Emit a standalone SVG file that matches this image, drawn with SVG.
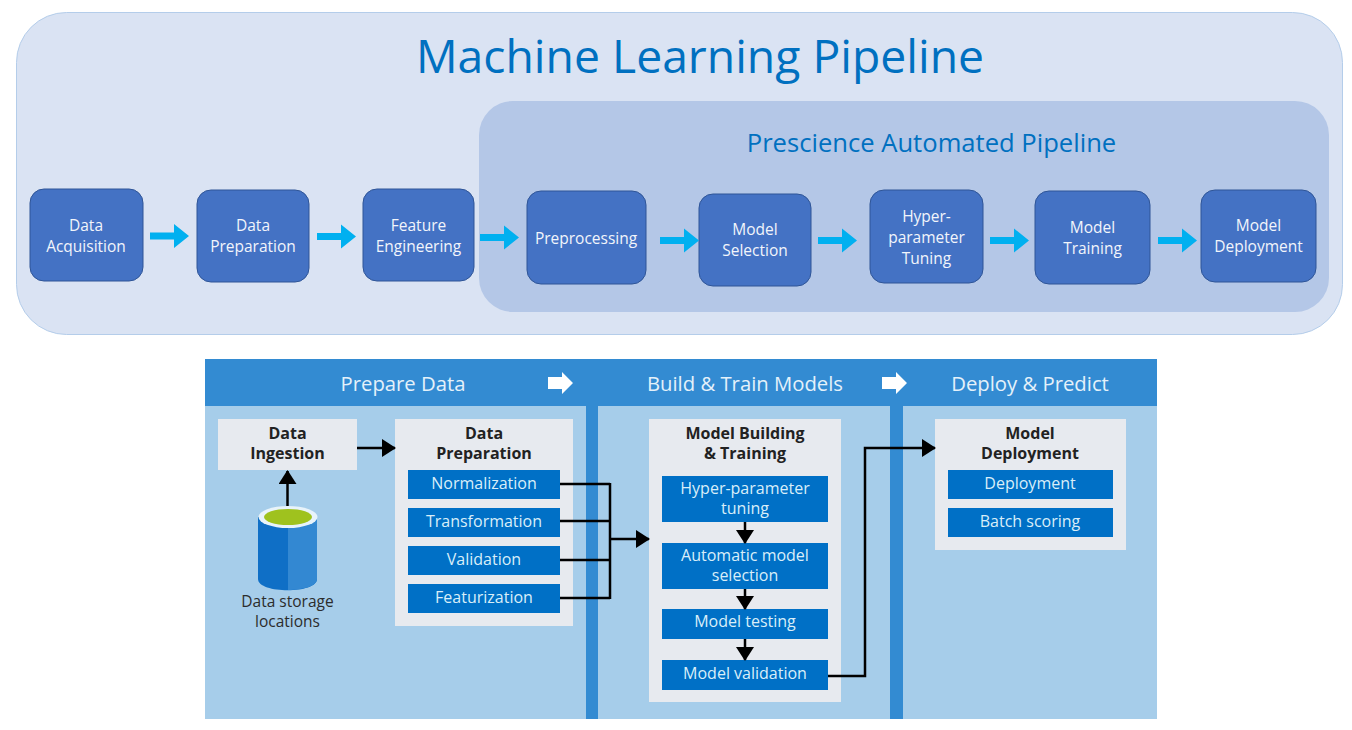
<svg xmlns="http://www.w3.org/2000/svg" width="1352" height="730" viewBox="0 0 1352 730">
<defs>
<marker id="blk" markerUnits="userSpaceOnUse" markerWidth="14" markerHeight="18" refX="13" refY="9" orient="auto"><path d="M0 0L14 9L0 18Z" fill="#000"/></marker>
</defs>
<style>
text{font-family:"Open Sans","Noto Sans","Liberation Sans",sans-serif;text-anchor:middle}
.n rect{fill:#4472c4;stroke:#2f5597;stroke-width:1}
.n text{fill:#f2f5fb;font-size:15.500px}
.ar{fill:#00b0f0}
.h{fill:#e4f1fa;font-size:20.300px}
.g{fill:#e7eaef}
.b{fill:#0070c6}
.w{fill:#d9eef9;font-size:16px}
.k{fill:#222;font-size:16px;font-weight:700}
.c{fill:none;stroke:#000;stroke-width:2.500}
</style>
<rect width="1352" height="730" fill="#fff"/>
<rect id="outer" x="16.500" y="12.500" width="1326" height="322" rx="50" fill="#dae3f3" stroke="#b4cdea"/>
<text x="700" y="73" font-size="46.300" fill="#0070c0">Machine Learning Pipeline</text>
<rect id="inner" x="479" y="101" width="850" height="211" rx="34" fill="#b4c7e7"/>
<text x="931.500" y="152" font-size="25.600" fill="#0070c0">Prescience Automated Pipeline</text>
<g id="n1" class="n"><rect x="30" y="189" width="113" height="92" rx="14"/><text x="86" y="231">Data</text><text x="86" y="252">Acquisition</text></g>
<g id="n2" class="n"><rect x="197" y="190" width="112" height="92" rx="14"/><text x="253" y="231">Data</text><text x="253" y="252">Preparation</text></g>
<g id="n3" class="n"><rect x="363" y="189" width="111" height="92" rx="14"/><text x="418.500" y="231">Feature</text><text x="418.500" y="252">Engineering</text></g>
<g id="n4" class="n"><rect x="527" y="191" width="119" height="93" rx="14"/><text x="586" y="243.500">Preprocessing</text></g>
<g id="n5" class="n"><rect x="699" y="194" width="112" height="92" rx="14"/><text x="755" y="235">Model</text><text x="755" y="256">Selection</text></g>
<g id="n6" class="n"><rect x="870" y="190" width="113" height="93" rx="14"/><text x="926.500" y="222">Hyper-</text><text x="926.500" y="243">parameter</text><text x="926.500" y="264">Tuning</text></g>
<g id="n7" class="n"><rect x="1035" y="191" width="115" height="93" rx="14"/><text x="1092.500" y="233">Model</text><text x="1092.500" y="254">Training</text></g>
<g id="n8" class="n"><rect x="1201" y="190" width="115" height="92" rx="14"/><text x="1258.500" y="231">Model</text><text x="1258.500" y="252">Deployment</text></g>
<g id="blue-arrows">
<path class="ar" d="M150 232.500h24v-8.500l15 12l-15 12v-8.500h-24z"/>
<path class="ar" d="M317 233h24v-8.500l15 12l-15 12v-8.500h-24z"/>
<path class="ar" d="M480 234h24v-8.500l15 12l-15 12v-8.500h-24z"/>
<path class="ar" d="M660 237h24v-8.500l15 12l-15 12v-8.500h-24z"/>
<path class="ar" d="M818 237h24v-8.500l15 12l-15 12v-8.500h-24z"/>
<path class="ar" d="M990 237h24v-8.500l15 12l-15 12v-8.500h-24z"/>
<path class="ar" d="M1158 237h24v-8.500l15 12l-15 12v-8.500h-24z"/>
</g>
<g id="panel">
<rect x="205" y="359" width="952" height="360" fill="#338bd2"/>
<rect x="205" y="406" width="381" height="313" fill="#a6cdea"/>
<rect x="598" y="406" width="292" height="313" fill="#a6cdea"/>
<rect x="903" y="406" width="254" height="313" fill="#a6cdea"/>
<text class="h" x="403" y="390.500">Prepare Data</text>
<text class="h" x="745" y="390.500">Build &amp; Train Models</text>
<text class="h" x="1030" y="390.500">Deploy &amp; Predict</text>
<path fill="#fff" d="M548 377h14v-5l11 11l-11 11v-5h-14z"/>
<path fill="#fff" d="M882 377h14v-5l11 11l-11 11v-5h-14z"/>
</g>
<g id="ingestion"><rect class="g" x="218" y="419" width="139" height="51"/><text class="k" x="287.500" y="439">Data</text><text class="k" x="287.500" y="459">Ingestion</text></g>
<g id="storage">
<path fill="#0f6fc6" d="M258 517v62c0 15 59 15 59 0v-62z"/>
<path fill="#3388d2" d="M288 517h29v62c0 7-14 11-29 11z"/>
<ellipse cx="288" cy="517" rx="29.500" ry="11" fill="#e8f3fa"/>
<ellipse cx="288" cy="517" rx="24" ry="8" fill="#9fc21e"/>
<text x="287.500" y="607" font-size="15.500" fill="#2c2c2c">Data storage</text><text x="287.500" y="627" font-size="15.500" fill="#2c2c2c">locations</text>
</g>
<g id="prep"><rect class="g" x="395" y="419" width="178" height="207"/>
<text class="k" x="484" y="439">Data</text><text class="k" x="484" y="459">Preparation</text>
<rect class="b" x="408" y="470" width="152" height="29"/><text class="w" x="484" y="489">Normalization</text>
<rect class="b" x="408" y="508" width="152" height="29"/><text class="w" x="484" y="527">Transformation</text>
<rect class="b" x="408" y="546" width="152" height="29"/><text class="w" x="484" y="565">Validation</text>
<rect class="b" x="408" y="584" width="152" height="29"/><text class="w" x="484" y="603">Featurization</text>
</g>
<g id="build"><rect class="g" x="649" y="419" width="192" height="283"/>
<text class="k" x="745" y="439">Model Building</text><text class="k" x="745" y="459">&amp; Training</text>
<rect class="b" x="662" y="476" width="166" height="46"/><text class="w" x="745" y="494">Hyper-parameter</text><text class="w" x="745" y="514">tuning</text>
<rect class="b" x="662" y="543" width="166" height="46"/><text class="w" x="745" y="561">Automatic model</text><text class="w" x="745" y="581">selection</text>
<rect class="b" x="662" y="609" width="166" height="30"/><text class="w" x="745" y="627">Model testing</text>
<rect class="b" x="662" y="660" width="166" height="30"/><text class="w" x="745" y="679">Model validation</text>
</g>
<g id="deploy"><rect class="g" x="935" y="419" width="191" height="131"/>
<text class="k" x="1030" y="439">Model</text><text class="k" x="1030" y="459">Deployment</text>
<rect class="b" x="948" y="470" width="165" height="29"/><text class="w" x="1030" y="489">Deployment</text>
<rect class="b" x="948" y="508" width="165" height="29"/><text class="w" x="1030" y="527">Batch scoring</text>
</g>
<g id="connectors">
<path class="c" d="M357 448H395" marker-end="url(#blk)"/>
<path class="c" d="M287.500 506V471" marker-end="url(#blk)"/>
<path class="c" d="M560 484H610M560 521H610M560 560H610M560 598H610M610 483V599"/>
<path class="c" d="M610 539H649" marker-end="url(#blk)"/>
<path class="c" d="M745 522V543" marker-end="url(#blk)"/>
<path class="c" d="M745 589V609" marker-end="url(#blk)"/>
<path class="c" d="M745 639V660" marker-end="url(#blk)"/>
<path class="c" d="M828 676H865V448H935" marker-end="url(#blk)"/>
</g>
</svg>
